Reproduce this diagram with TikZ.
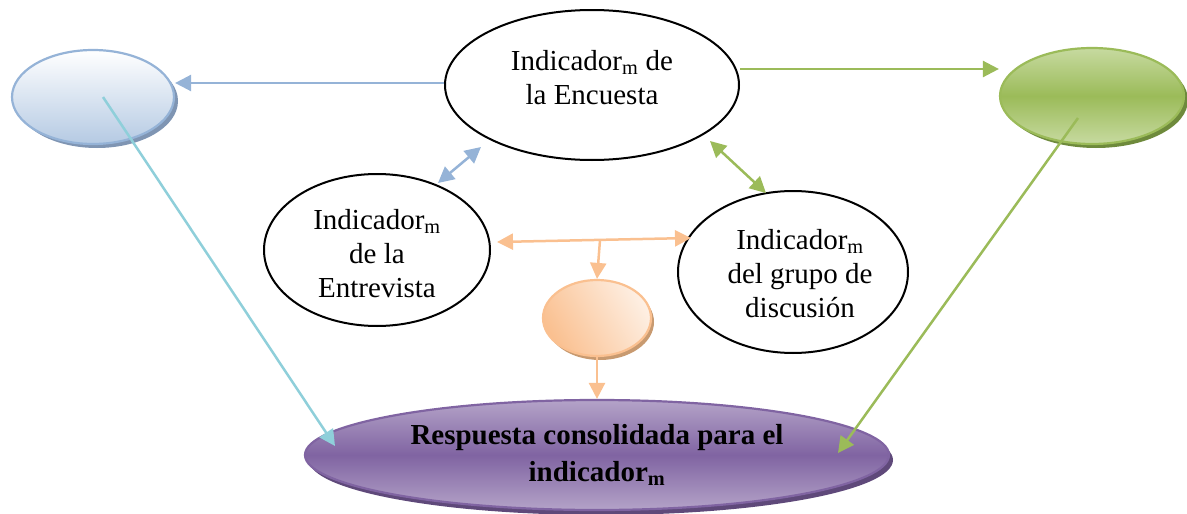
\documentclass[tikz,border=0pt]{standalone}
\usepackage{fontspec}
\setmainfont{Liberation Serif}
\usetikzlibrary{arrows.meta,shapes.geometric}
\definecolor{bluel}{HTML}{95B3D7}
\definecolor{blues}{HTML}{7F95B3}
\definecolor{cyanl}{HTML}{8FCFDA}
\definecolor{greenl}{HTML}{9BBB59}
\definecolor{greenlt}{HTML}{C7DAA0}
\definecolor{greens}{HTML}{6E8A3C}
\definecolor{orangel}{HTML}{FAC090}
\definecolor{oranges}{HTML}{C89A70}
\definecolor{purplel}{HTML}{8064A2}
\definecolor{purplelt}{HTML}{B4A3C8}
\definecolor{purples}{HTML}{5F497A}
\begin{document}
\begin{tikzpicture}[x=1pt,y=-1pt,
  txt/.style={font=\fontsize{29}{34}\selectfont, align=center, inner sep=0pt},
  blackell/.style={ellipse, draw=black, line width=2pt, fill=white, inner sep=0pt},
  arr/.style={line width=2.5pt, -{Triangle[length=16pt,width=16pt]}},
  dbl/.style={line width=2.5pt, {Triangle[length=16pt,width=16pt]}-{Triangle[length=16pt,width=16pt]}}
]
\useasboundingbox (0,0) rectangle (1187,514);

% shadows
\fill[blues] (97,101) ellipse [x radius=81pt, y radius=47pt];
\fill[greens] (1096,100) ellipse [x radius=92pt, y radius=48pt];
\fill[oranges] (600,322) ellipse [x radius=54pt, y radius=38pt];
\fill[purples] (601,460) ellipse [x radius=292pt, y radius=55pt];

% coloured ellipses
\node[ellipse, draw=bluel, line width=2.2pt, inner sep=0pt, minimum width=162pt, minimum height=94pt,
  top color=white, bottom color=bluel!70] (blue) at (93,97) {};
\node[ellipse, draw=greenl, line width=2.2pt, inner sep=0pt, minimum width=184pt, minimum height=96pt,
  top color=greenlt, bottom color=greenlt, middle color=greenl] (green) at (1092,96) {};
\node[ellipse, draw=orangel, line width=2.2pt, inner sep=0pt, minimum width=108pt, minimum height=76pt,
  left color=orangel, right color=orangel!25, shading angle=120] (orng) at (597,318) {};
\node[ellipse, draw=purplel, line width=2.2pt, inner sep=0pt, minimum width=584pt, minimum height=110pt,
  top color=purplelt, bottom color=purplelt, middle color=purplel,
  font=\bfseries\fontsize{29}{37}\selectfont, align=center] (resp) at (597,455)
  {Respuesta consolidada para el\\indicador\textsubscript{m}};

% black ellipses
\node[blackell, minimum width=294pt, minimum height=150pt] (enc) at (592,85) {};
\node[txt] (enctxt) at (592,78) {Indicador\textsubscript{m} de\\la Encuesta};
\node[blackell, minimum width=226pt, minimum height=152pt] (entr) at (377,250) {};
\node[txt] (entrtxt) at (377,254) {Indicador\textsubscript{m}\\de la\\Entrevista};
\node[blackell, minimum width=230pt, minimum height=162pt] (grp) at (793,272) {};
\node[txt] (grptxt) at (800,274) {Indicador\textsubscript{m}\\del grupo de\\discusión};

% connectors
\draw[arr, bluel] ([yshift=2pt]enc.west) -- ([yshift=2pt]blue.east |- enc.west);
\draw[arr, greenl] ([yshift=16pt]enc.east) -- ([yshift=16pt]green.west |- enc.east);

\coordinate (b1) at (438,183);
\coordinate (b2) at (481,147);
\draw[dbl, bluel] (b1) -- (b2);
\coordinate (g1) at (710,141);
\coordinate (g2) at (766,193);
\draw[dbl, greenl] (g1) -- (g2);

\coordinate (o1) at (497,242);
\coordinate (o2) at (691,238);
\coordinate (om) at (600,240);
\draw[dbl, orangel] (o1) -- (o2);
\draw[arr, orangel] (om) -- (orng.north);
\draw[arr, orangel] (orng.south) -- (resp.north);

\coordinate (c1) at (103,97);
\coordinate (c2) at (335,446);
\draw[arr, cyanl] (c1) -- (c2);
\coordinate (d1) at (1078,118);
\coordinate (d2) at (838,453);
\draw[arr, greenl] (d1) -- (d2);
\end{tikzpicture}
\end{document}
